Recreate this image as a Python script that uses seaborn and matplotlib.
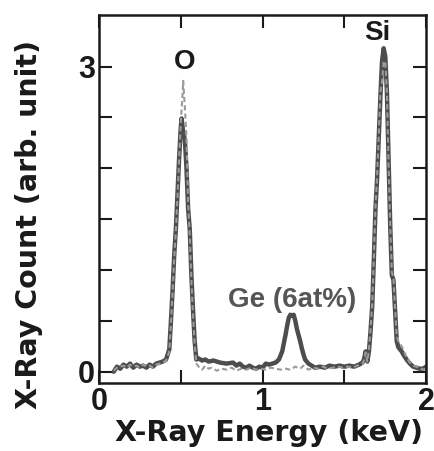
import matplotlib
matplotlib.use("Agg")
import matplotlib.pyplot as plt
import seaborn as sns
import pandas as pd
import numpy as np

# ---- data ----
ge_energy = [0.09, 0.11, 0.13, 0.15, 0.17, 0.19, 0.21, 0.23, 0.25, 0.27, 0.29, 0.31, 0.33, 0.35,
             0.37, 0.39, 0.41, 0.43, 0.44, 0.45, 0.46, 0.47, 0.48, 0.49, 0.50, 0.505, 0.515, 0.525,
             0.535, 0.545, 0.555, 0.565, 0.575, 0.585, 0.595, 0.61, 0.63, 0.65, 0.67, 0.70, 0.74,
             0.78, 0.82, 0.84, 0.86, 0.88, 0.90, 0.92, 0.94, 0.96, 0.98, 1.00, 1.02, 1.04, 1.06,
             1.08, 1.10, 1.12, 1.14, 1.15, 1.16, 1.17, 1.18, 1.19, 1.20, 1.21, 1.22, 1.23, 1.24,
             1.25, 1.26, 1.28, 1.30, 1.32, 1.35, 1.38, 1.41, 1.44, 1.47, 1.50, 1.53, 1.56, 1.59,
             1.61, 1.62, 1.63, 1.64, 1.65, 1.66, 1.67, 1.68, 1.69, 1.70, 1.71, 1.72, 1.73, 1.74,
             1.75, 1.76, 1.77, 1.78, 1.79, 1.80, 1.81, 1.82, 1.83, 1.85, 1.86, 1.88, 1.90, 1.92,
             1.94, 1.96, 1.98, 2.00]
ge_count = [0.00, 0.05, 0.03, 0.07, 0.05, 0.08, 0.04, 0.07, 0.05, 0.06, 0.04, 0.07, 0.05, 0.08,
            0.09, 0.10, 0.12, 0.22, 0.50, 0.80, 1.15, 1.40, 1.75, 2.10, 2.40, 2.49, 2.35, 2.28,
            2.00, 1.60, 1.40, 0.95, 0.60, 0.30, 0.12, 0.13, 0.11, 0.12, 0.10, 0.11, 0.09,
            0.08, 0.09, 0.06, 0.08, 0.05, 0.04, 0.06, 0.04, 0.03, 0.05, 0.04, 0.08, 0.07, 0.08,
            0.09, 0.12, 0.20, 0.36, 0.45, 0.53, 0.56, 0.55, 0.56, 0.50, 0.42, 0.36, 0.30, 0.23,
            0.17, 0.12, 0.08, 0.06, 0.04, 0.05, 0.04, 0.06, 0.05, 0.06, 0.05, 0.06, 0.05, 0.07,
            0.09, 0.12, 0.20, 0.10, 0.20, 0.40, 0.64, 1.10, 1.60, 1.90, 2.30, 2.70, 3.05, 3.18,
            3.10, 2.75, 2.10, 1.45, 0.95, 0.90, 0.60, 0.30, 0.24, 0.20, 0.17, 0.12, 0.08, 0.05,
            0.04, 0.03, 0.03, 0.05]

ref_energy = [0.09, 0.11, 0.13, 0.15, 0.17, 0.19, 0.21, 0.23, 0.25, 0.27, 0.29, 0.31, 0.33, 0.35,
              0.37, 0.39, 0.41, 0.43, 0.44, 0.45, 0.46, 0.47, 0.48, 0.49, 0.50, 0.51, 0.515, 0.525,
              0.535, 0.545, 0.555, 0.565, 0.575, 0.585, 0.595, 0.61, 0.63, 0.65, 0.67, 0.69, 0.72,
              0.75, 0.78, 0.81, 0.84, 0.87, 0.90, 0.93, 0.96, 0.99, 1.02, 1.05, 1.08, 1.11, 1.14,
              1.17, 1.20, 1.23, 1.25, 1.28, 1.31, 1.34, 1.37, 1.40, 1.43, 1.46, 1.49, 1.52, 1.55,
              1.58, 1.61, 1.62, 1.63, 1.64, 1.65, 1.66, 1.67, 1.68, 1.69, 1.70, 1.71, 1.72, 1.73,
              1.74, 1.75, 1.76, 1.77, 1.78, 1.79, 1.80, 1.81, 1.82, 1.83, 1.84, 1.86, 1.88, 1.90,
              1.92, 1.94, 1.96, 1.98, 2.00]
ref_count = [0.01, 0.04, 0.05, 0.06, 0.04, 0.07, 0.05, 0.06, 0.04, 0.07, 0.05, 0.06, 0.04, 0.07,
             0.08, 0.09, 0.11, 0.20, 0.48, 0.78, 1.12, 1.38, 1.72, 2.08, 2.45, 2.70, 2.86, 2.60,
             2.30, 1.65, 1.35, 0.90, 0.55, 0.28, 0.08, 0.05, 0.02, 0.06, 0.03, 0.04, 0.01,
             0.03, 0.02, 0.04, 0.01, 0.03, 0.02, 0.04, 0.02, 0.03, 0.02, 0.04, 0.03, 0.02, 0.03,
             0.02, 0.05, 0.03, 0.06, 0.02, 0.04, 0.03, 0.05, 0.03, 0.04, 0.05, 0.04, 0.05, 0.04,
             0.06, 0.08, 0.11, 0.19, 0.10, 0.22, 0.42, 0.66, 1.12, 1.62, 1.92, 2.32, 2.75, 2.85,
             3.05, 3.05, 2.75, 2.05, 1.45, 0.98, 0.92, 0.62, 0.35, 0.30, 0.28, 0.22, 0.14, 0.09,
             0.06, 0.05, 0.04, 0.02, 0.03]

x_ticks = [0, 0.5, 1, 1.5, 2]
x_ticklabels = ["0", "", "1", "", "2"]
y_ticks = [0, 0.5, 1, 1.5, 2, 2.5, 3]
y_ticklabels = ["0", "", "", "", "", "", "3"]

peak_labels = ["O", "Si", "Ge (6at%)"]
peak_x = [0.526, 1.703, 1.183]
peak_y = [3.045, 3.335, 0.71]

df_ge = pd.DataFrame({"energy": ge_energy, "count": ge_count})
df_ref = pd.DataFrame({"energy": ref_energy, "count": ref_count})

sns.set_style("ticks")
plt.rcParams["font.family"] = ["Liberation Sans", "DejaVu Sans"]
plt.rcParams["font.weight"] = "bold"

fig = plt.figure(figsize=(4.34, 4.51), dpi=100)
ax = fig.add_axes([0.228, 0.1514, 0.754, 0.8153])

sns.lineplot(data=df_ge, x="energy", y="count", ax=ax, color="#4d4d4d",
             linewidth=3.2, sort=False, estimator=None)
sns.lineplot(data=df_ref, x="energy", y="count", ax=ax, color="#9a9a9a",
             linewidth=1.5, sort=False, estimator=None, dashes=False)
ax.lines[-1].set_dashes([2.5, 1.5])

ax.set_xlim(0, 2)
ax.set_ylim(-0.108, 3.507)
ax.set_xticks(x_ticks)
ax.set_xticklabels(x_ticklabels)
ax.set_yticks(y_ticks)
ax.set_yticklabels(y_ticklabels)
ax.tick_params(direction="in", length=9.5, width=1.5, labelsize=22,
               top=True, right=True, pad=3, colors="#1a1a1a")
for s in ax.spines.values():
    s.set_linewidth(1.8)
    s.set_color("#1a1a1a")

ax.set_xlabel("X-Ray Energy (keV)", fontsize=20.5, fontweight="bold", color="#1a1a1a",
              family=["DejaVu Sans"])
ax.set_ylabel("X-Ray Count (arb. unit)", fontsize=20.5, fontweight="bold", color="#1a1a1a",
              family=["DejaVu Sans"])
ax.xaxis.set_label_coords(0.52, -0.098)
ax.yaxis.set_label_coords(-0.17, 0.43)

colors = ["#1a1a1a", "#1a1a1a", "#555555"]
for lab, px, py, c in zip(peak_labels, peak_x, peak_y, colors):
    ax.text(px, py, lab, ha="center", va="center", fontsize=20, fontweight="bold", color=c)

fig.savefig("out.png", dpi=100)
